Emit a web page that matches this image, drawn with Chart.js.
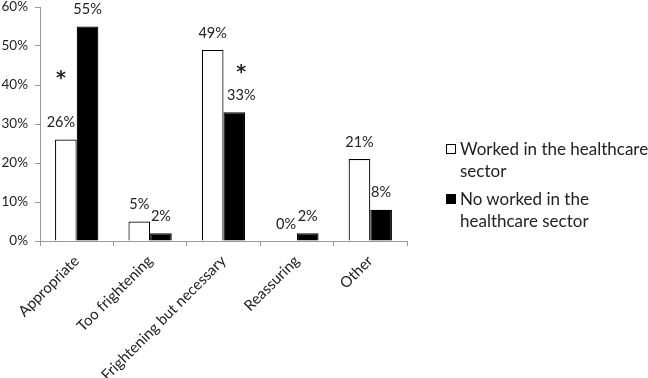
<!DOCTYPE html>
<html>
<head>
<meta charset="utf-8">
<script src="https://cdn.jsdelivr.net/npm/chart.js@4.4.0/dist/chart.umd.min.js"></script>
<style>
    body { margin: 0; background: #fff; }
    #wrap { position: relative; width: 648px; height: 378px; overflow: hidden; }
    #legend { position: absolute; left: 446px; top: 138px; font-family: Lato, sans-serif; font-size: 17px; color: #222; line-height: 22px; white-space: nowrap; }
    .item { display: flex; align-items: flex-start; margin-bottom: 6px; }
    .box { width: 10px; height: 10px; border: 1px solid #000; margin: 6px 4px 0 0; flex: none; box-sizing: border-box; }
</style>
</head>
<body>
<div id="wrap">
    <canvas id="grafico" width="648" height="378"></canvas>
    <div id="legend"></div>
</div>
<script>
// Dados do gráfico
const categorias = ["Appropriate", "Too frightening", "Frightening but necessary", "Reassuring", "Other"];
const trabalhouSaude = [26, 5, 49, 0, 21];
const naoTrabalhouSaude = [55, 2, 33, 2, 8];
const ticksY = [0, 10, 20, 30, 40, 50, 60];
const nomesSeries = [["Worked in the healthcare", "sector"], ["No worked in the", "healthcare sector"]];
// asteriscos de significancia: categoria, serie, altura (%)
const asteriscos = [
    { categoria: 0, serie: 0, valor: 42 },
    { categoria: 2, serie: 1, valor: 43.6 }
];

// deslocamento horizontal do asterisco e do rótulo correspondente
const deslocSerie = [-5, 7];

const rotulosBarras = {
    id: 'rotulosBarras',
    afterDatasetsDraw(chart) {
        const ctx = chart.ctx;
        ctx.save();
        ctx.fillStyle = '#222';
        ctx.textAlign = 'center';
        ctx.textBaseline = 'middle';
        ctx.font = '14.5px Lato, sans-serif';
        chart.data.datasets.forEach((ds, i) => {
            chart.getDatasetMeta(i).data.forEach((bar, j) => {
                const marcado = asteriscos.some(a => a.serie === i && a.categoria === j);
                const dx = marcado ? deslocSerie[i] : 0;
                ctx.fillText(ds.data[j] + '%', bar.x + dx, bar.y - 17);
            });
        });
        ctx.font = 'bold 19px "DejaVu Sans", sans-serif';
        asteriscos.forEach(a => {
            const bar = chart.getDatasetMeta(a.serie).data[a.categoria];
            ctx.fillText('*', bar.x + deslocSerie[a.serie], chart.scales.y.getPixelForValue(a.valor) + 2);
        });
        ctx.restore();
    }
};

const cores = ['#ffffff', '#000000'];

const ctx = document.getElementById('grafico').getContext('2d');
new Chart(ctx, {
    type: 'bar',
    data: {
        labels: categorias,
        datasets: [
            { label: nomesSeries[0].join(' '), data: trabalhouSaude, backgroundColor: cores[0], borderColor: '#000', borderWidth: 1.2 },
            { label: nomesSeries[1].join(' '), data: naoTrabalhouSaude, backgroundColor: cores[1], borderColor: '#000', borderWidth: 1.2 }
        ]
    },
    options: {
        responsive: false,
        animation: false,
        categoryPercentage: 0.59,
        barPercentage: 1,
        layout: { padding: { top: 7, right: 241, left: 0, bottom: 0 } },
        plugins: { legend: { display: false }, tooltip: { enabled: false } },
        scales: {
            y: {
                min: 0,
                max: 60,
                afterFit: s => { s.width = 40; s.paddingTop = 0; s.paddingBottom = 0; },
                afterBuildTicks: s => { s.ticks = ticksY.map(v => ({ value: v })); },
                border: { color: '#999', width: 1 },
                grid: { drawOnChartArea: false, drawTicks: true, tickLength: 5, color: '#999' },
                ticks: { padding: 7, color: '#222', font: { family: 'Lato', size: 13.5 }, callback: v => v + '%' }
            },
            x: {
                afterFit: s => { s.height = 137; },
                border: { color: '#999', width: 1 },
                grid: { drawOnChartArea: false, drawTicks: true, tickLength: 5, color: '#999', offset: true },
                ticks: { minRotation: 45, maxRotation: 45, padding: 6, color: '#222', font: { family: 'Lato', size: 15 } }
            }
        }
    },
    plugins: [rotulosBarras]
});

// Legenda em HTML (texto em duas linhas)
const legenda = document.getElementById('legend');
nomesSeries.forEach((linhas, i) => {
    const item = document.createElement('div');
    item.className = 'item';
    const box = document.createElement('div');
    box.className = 'box';
    box.style.background = cores[i];
    const texto = document.createElement('div');
    texto.innerHTML = linhas.join('<br>');
    item.appendChild(box);
    item.appendChild(texto);
    legenda.appendChild(item);
});
</script>
</body>
</html>
